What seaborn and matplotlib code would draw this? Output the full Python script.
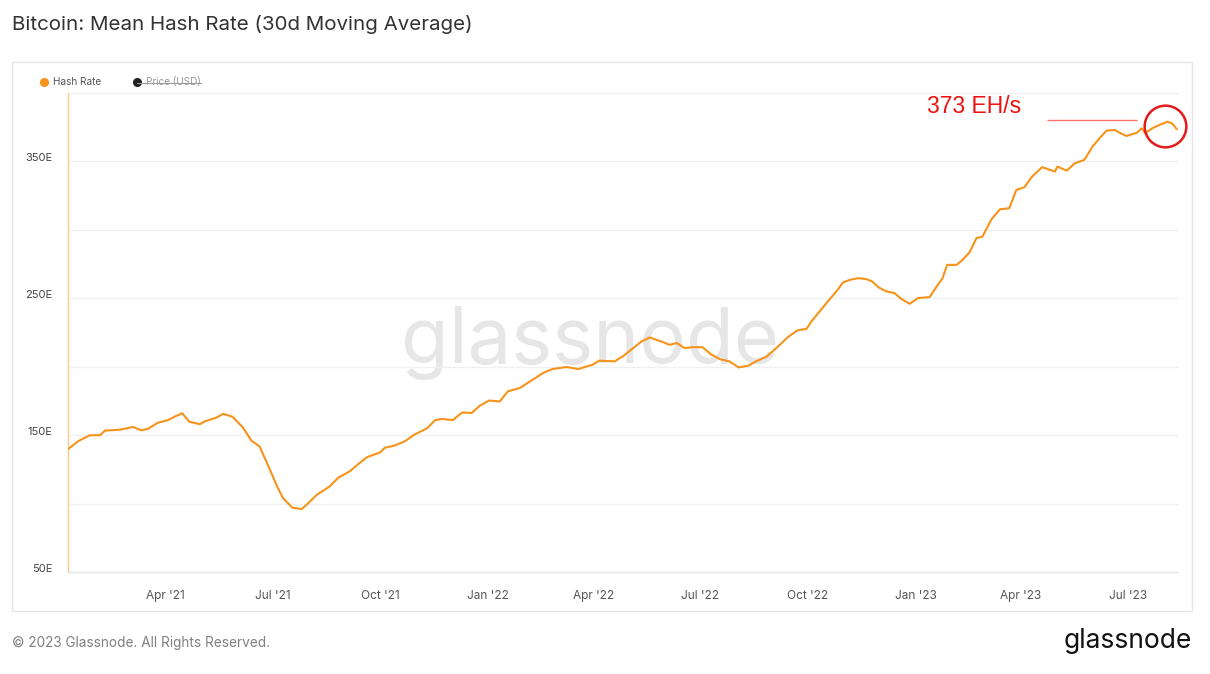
#!/usr/bin/env python3
# Bitcoin mean hash rate (30d MA) - glassnode style line chart.

import pandas as pd
import seaborn as sns
import matplotlib

matplotlib.use("Agg")
import matplotlib.pyplot as plt
import matplotlib.dates as mdates
import matplotlib.patches as mpatches
from matplotlib.lines import Line2D

# Data (EH/s).
dates = [
    "2021-01-08", "2021-01-16", "2021-01-26", "2021-02-04", "2021-02-08", "2021-02-21",
    "2021-03-04", "2021-03-11", "2021-03-17", "2021-03-25", "2021-04-03", "2021-04-09",
    "2021-04-15", "2021-04-21", "2021-04-30", "2021-05-04", "2021-05-14", "2021-05-20",
    "2021-05-28", "2021-06-06", "2021-06-13", "2021-06-20", "2021-06-27", "2021-07-05",
    "2021-07-10", "2021-07-18", "2021-07-26", "2021-07-30", "2021-08-08", "2021-08-19",
    "2021-08-26", "2021-09-05", "2021-09-15", "2021-09-20", "2021-10-01", "2021-10-05",
    "2021-10-13", "2021-10-22", "2021-10-30", "2021-11-10", "2021-11-17", "2021-11-23",
    "2021-12-02", "2021-12-10", "2021-12-18", "2021-12-25", "2022-01-02", "2022-01-11",
    "2022-01-18", "2022-01-28", "2022-02-06", "2022-02-17", "2022-02-25", "2022-03-09",
    "2022-03-19", "2022-03-31", "2022-04-06", "2022-04-19", "2022-04-26", "2022-05-05",
    "2022-05-12", "2022-05-19", "2022-05-29", "2022-06-05", "2022-06-11", "2022-06-18",
    "2022-06-25", "2022-07-03", "2022-07-11", "2022-07-18", "2022-07-26", "2022-08-03",
    "2022-08-11", "2022-08-18", "2022-08-27", "2022-09-05", "2022-09-14", "2022-09-22",
    "2022-09-30", "2022-10-04", "2022-10-11", "2022-10-18", "2022-10-26", "2022-10-31",
    "2022-11-06", "2022-11-13", "2022-11-20", "2022-11-25", "2022-11-30", "2022-12-07",
    "2022-12-14", "2022-12-20", "2022-12-27", "2023-01-03", "2023-01-13", "2023-01-19",
    "2023-01-24", "2023-01-28", "2023-02-05", "2023-02-10", "2023-02-16", "2023-02-22",
    "2023-02-27", "2023-03-07", "2023-03-14", "2023-03-22", "2023-03-28", "2023-04-04",
    "2023-04-10", "2023-04-19", "2023-04-30", "2023-05-02", "2023-05-10", "2023-05-17",
    "2023-05-25", "2023-06-01", "2023-06-07", "2023-06-13", "2023-06-20", "2023-06-24",
    "2023-06-30", "2023-07-09", "2023-07-13", "2023-07-16", "2023-07-22", "2023-07-28",
    "2023-08-04", "2023-08-08", "2023-08-12",
]
hash_rate = [
    140.1, 145.5, 149.9, 150.0, 153.3, 154.0,
    156.0, 153.5, 154.7, 159.0, 161.0, 163.7,
    166.0, 159.8, 158.0, 160.0, 162.7, 165.6,
    163.4, 155.4, 146.0, 141.8, 128.4, 112.6,
    104.0, 97.0, 96.0, 99.0, 106.5, 112.6,
    118.8, 123.6, 130.8, 134.0, 137.4, 140.8,
    142.3, 145.5, 150.3, 155.0, 161.0, 161.8,
    161.0, 166.6, 166.2, 171.5, 175.3, 174.6,
    182.0, 184.4, 189.3, 195.4, 198.3, 199.8,
    198.3, 201.4, 204.4, 203.9, 207.5, 213.6,
    218.4, 221.4, 218.4, 216.0, 217.3, 213.6,
    214.3, 214.3, 208.7, 205.5, 203.9, 199.5,
    200.7, 204.0, 207.5, 214.3, 221.6, 226.5,
    227.7, 233.0, 240.3, 247.6, 255.7, 261.5,
    263.5, 264.7, 264.0, 262.3, 258.2, 255.0,
    253.8, 249.4, 246.0, 250.1, 250.9, 258.6,
    264.7, 274.4, 274.4, 278.0, 283.5, 294.0,
    295.0, 308.0, 315.0, 315.8, 329.2, 331.2,
    338.5, 345.8, 342.6, 346.2, 343.3, 348.7,
    351.1, 360.8, 366.9, 372.5, 373.0, 371.0,
    368.6, 371.0, 374.2, 370.6, 374.2, 376.6,
    379.0, 377.8, 373.5,
]
y_ticks = [50, 150, 250, 350]
y_grid = [50, 100, 150, 200, 250, 300, 350, 400]
x_ticks = ["2021-04-01", "2021-07-01", "2021-10-01", "2022-01-01", "2022-04-01",
           "2022-07-01", "2022-10-01", "2023-01-01", "2023-04-01", "2023-07-01"]

annot_text = "373 EH/s"
annot_text_pos = ("2023-04-01", 390)
annot_line = ("2023-04-23", "2023-07-09", 380)

ORANGE = "#f7931a"
W, H = 1210, 674


def fx(px):
    return px / W


def fy(py):
    return 1 - py / H


df = pd.DataFrame({"date": pd.to_datetime(dates), "hash_rate": hash_rate})

sns.set_style("white")
plt.rcParams["font.family"] = ["Inter", "DejaVu Sans"]

fig = plt.figure(figsize=(W / 100, H / 100), dpi=100)
ax = fig.add_axes([fx(68), fy(572), fx(1178 - 68), (572 - 93) / H])

# watermark
ax.text(0.47, 0.436, "glassnode", transform=ax.transAxes, ha="center",
        va="baseline", fontsize=56, color="#e6e6e6", zorder=0)

sns.lineplot(data=df, x="date", y="hash_rate", color=ORANGE, linewidth=1.5,
             ax=ax, zorder=3)

ax.set_xlim(pd.Timestamp("2021-01-07 12:00"), pd.Timestamp("2023-08-13"))
ax.set_ylim(50, 400)
for g in y_grid:
    ax.axhline(g, color="#f0f0f0", linewidth=1, zorder=1)

ax.set_yticks(y_ticks)
ax.set_yticklabels(["{}E".format(t) for t in y_ticks])
ax.set_xticks(pd.to_datetime(x_ticks))
ax.xaxis.set_major_formatter(mdates.DateFormatter("%b '%y"))
ax.tick_params(axis="y", length=0, pad=11, labelsize=8, labelcolor="#444444")
ax.tick_params(axis="x", length=6, width=0.8, color="#e8e8e8", pad=7,
               labelsize=8.5, labelcolor="#555555")
for lab in ax.get_yticklabels():
    lab.set_verticalalignment("baseline")
ax.set_xlabel("")
ax.set_ylabel("")

for side in ["top", "right"]:
    ax.spines[side].set_visible(False)
ax.spines["left"].set_color("#fdc88a")
ax.spines["left"].set_linewidth(1)
ax.spines["bottom"].set_color("#e8e8e8")
ax.spines["bottom"].set_linewidth(1)

# red annotation
ax.text(pd.Timestamp(annot_text_pos[0]), annot_text_pos[1], annot_text,
        ha="right", va="center", fontsize=16.5, color="#ee1111",
        family=["Liberation Sans", "DejaVu Sans"], zorder=5)
ax.hlines(annot_line[2], pd.Timestamp(annot_line[0]), pd.Timestamp(annot_line[1]),
          color="#ff7070", linewidth=1, zorder=5)
tail = df.tail(5)
center_x = tail["date"].iloc[0] + (tail["date"].iloc[-1] - tail["date"].iloc[0]) / 2
ax.plot([center_x], [tail["hash_rate"].mean()], marker="o", markersize=30,
        markerfacecolor="none", markeredgecolor="#e31b1b", markeredgewidth=1.8,
        clip_on=False, zorder=6)

# panel border
fig.add_artist(mpatches.Rectangle((fx(12), fy(611)), fx(1192 - 12), (611 - 62) / H,
                                  transform=fig.transFigure, fill=False,
                                  edgecolor="#e6e6e6", linewidth=1))

# legend
fig.add_artist(Line2D([fx(44)], [fy(82)], marker="o", markersize=5.5,
                      color=ORANGE, transform=fig.transFigure))
fig.text(fx(53), fy(82), "Hash Rate", fontsize=7.2, color="#555555",
         va="center", ha="left")
fig.add_artist(Line2D([fx(137)], [fy(82)], marker="o", markersize=5.5,
                      color="#222222", transform=fig.transFigure))
fig.text(fx(146), fy(82), "Price (USD)", fontsize=7.2, color="#9a9a9a",
         va="center", ha="left")
fig.add_artist(Line2D([fx(137), fx(201)], [fy(82.5), fy(82.5)], color="#9a9a9a",
                      linewidth=0.8, transform=fig.transFigure))

# title and footer
fig.text(fx(12), fy(25), "Bitcoin: Mean Hash Rate (30d Moving Average)",
         fontsize=14.8, color="#333333", va="center", ha="left")
fig.text(fx(12), fy(643), "\u00a9 2023 Glassnode. All Rights Reserved.",
         fontsize=9.8, color="#808080", va="center", ha="left")
fig.text(fx(1192), fy(641), "glassnode", fontsize=19, color="#111111",
         va="center", ha="right")

fig.savefig("out.png", dpi=100)
plt.close()
